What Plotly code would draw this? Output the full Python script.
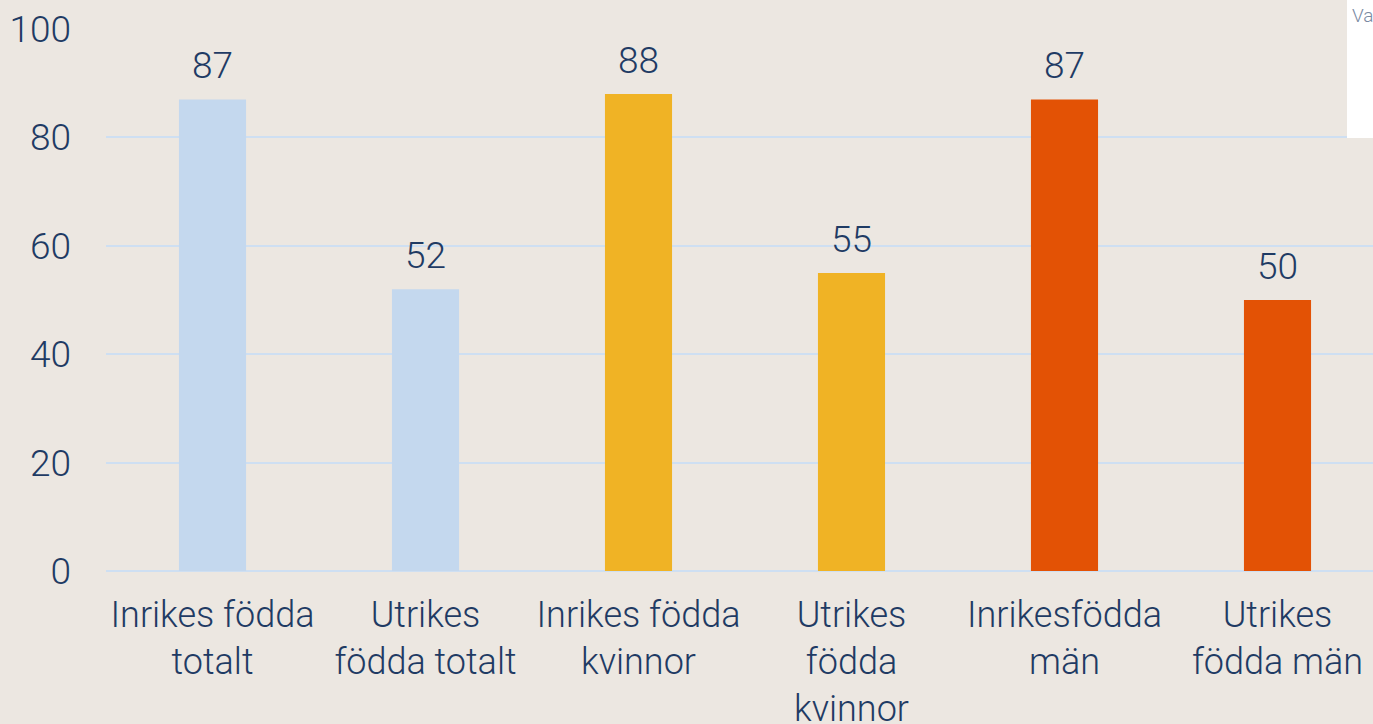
import plotly.graph_objects as go

categories = ["Inrikes födda<br>totalt", "Utrikes<br>födda totalt", "Inrikes födda<br>kvinnor",
              "Utrikes<br>födda<br>kvinnor", "Inrikesfödda<br>män", "Utrikes<br>födda män"]
values = [87, 52, 88, 55, 87, 50]
bar_colors = ["#c4d8ee", "#c4d8ee", "#f0b325", "#f0b325", "#e35205", "#e35205"]
y_ticks = [0, 20, 40, 60, 80, 100]

W, H = 1373, 724
ML, MR, MT, MB = 106, 0, 29, 153
text_color = "#1f3b64"
font_fam = "Roboto"

fig = go.Figure()
fig.add_trace(go.Bar(
    x=list(range(len(categories))), y=values,
    marker=dict(color=bar_colors, line=dict(width=0)),
    width=0.315, hoverinfo="skip",
))

for i, v in enumerate(values):
    fig.add_annotation(x=i, y=v, text=str(v), showarrow=False, yanchor="bottom",
                       yshift=10, font=dict(family=font_fam, size=37, color=text_color, weight=300))

plot_w = W - ML - MR
plot_h = H - MT - MB

def px_x(p):
    return (p - ML) / plot_w

def px_y(p):
    return (H - MB - p) / plot_h

fig.add_shape(type="rect", xref="paper", yref="paper",
              x0=px_x(1347), x1=px_x(1380), y0=px_y(138), y1=px_y(-5),
              fillcolor="white", line=dict(width=0), layer="above")
fig.add_annotation(xref="paper", yref="paper", x=px_x(1350), y=px_y(16),
                   xanchor="left", yanchor="middle", text="Va", showarrow=False,
                   font=dict(family=font_fam, size=19, color="#7a8aa3"))

fig.update_layout(
    width=W, height=H,
    margin=dict(l=ML, r=MR, t=MT, b=MB, pad=0, autoexpand=False),
    paper_bgcolor="#ece7e1", plot_bgcolor="#ece7e1",
    showlegend=False, bargap=0.685,
    font=dict(family=font_fam, color=text_color, size=37, weight=300),
)
fig.update_xaxes(
    tickmode="array", tickvals=list(range(len(categories))), ticktext=categories,
    range=[-0.5, 5.5 - (ML + 6 * 213 - W) / 213],
    showgrid=False, zeroline=False, showline=False, ticks="",
    ticklabelstandoff=19, automargin=False,
    tickfont=dict(family=font_fam, size=36, color=text_color, weight=300),
    tickangle=0,
)
fig.update_yaxes(
    range=[0, 100], tickvals=y_ticks, showgrid=True, gridcolor="#cedff2", gridwidth=2,
    zeroline=True, zerolinecolor="#cedff2", zerolinewidth=2, showline=False, ticks="",
    ticklabelstandoff=34, automargin=False,
    tickfont=dict(family=font_fam, size=37, color=text_color, weight=300),
)

fig.write_html("out.html", config={"displayModeBar": False},
               post_script="document.body.style.margin='0';document.body.style.overflow='hidden';")
